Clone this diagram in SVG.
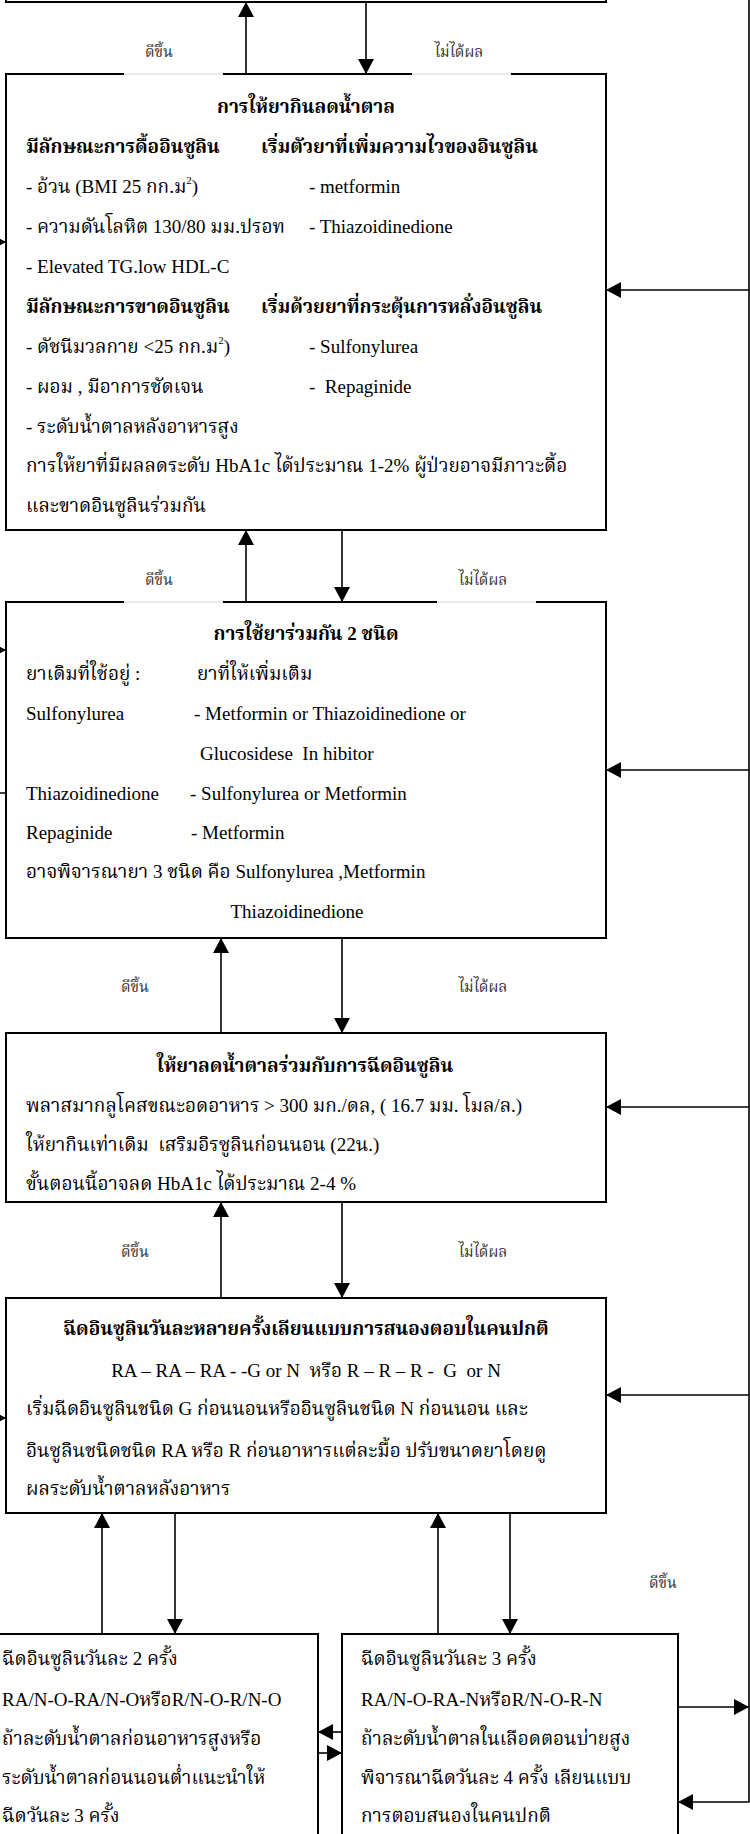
<svg xmlns="http://www.w3.org/2000/svg" width="750" height="1834" viewBox="0 0 750 1834">
  <style>
    .box { fill: none; stroke: #000; stroke-width: 2; }
    .gap { stroke: #d6d6d6; stroke-width: 1; }
    .wire { fill: none; stroke: #000; stroke-width: 1.6; }
    text { font-family: "Liberation Serif", "Norasi", "Kinnari", "Noto Serif Thai", "Noto Sans Thai", "Times New Roman", serif; fill: #000; }
    .t { font-size: 19px; }
    .h { font-size: 19px; font-weight: bold; }
    .c { text-anchor: middle; }
    .lbl { font-size: 15px; fill: #333; text-anchor: middle; }
  </style>
  <defs>
    <marker id="ah" markerWidth="16" markerHeight="16" refX="15" refY="8" orient="auto" markerUnits="userSpaceOnUse">
      <path d="M0,0 L15,8 L0,16 z" fill="#000"/>
    </marker>
  </defs>
  <rect width="750" height="1834" fill="#fff"/>

  <!-- previous step (only its lower edge is on the page) -->
  <g id="node-top">
    <rect class="box" x="6" y="-60" width="600" height="62"/>
  </g>

  <!-- oral glucose-lowering drugs -->
  <g id="node-oral">
    <path class="box" d="M124,74 H6 V530 H606 V74 H511 M412,74 H223"/>
    <path class="gap" d="M124,74 H223 M412,74 H511"/>
    <text class="h c" x="306" y="113">การให้ยากินลดน้ำตาล</text>
    <text class="h" x="26" y="153">มีลักษณะการดื้ออินซูลิน</text>
    <text class="h" x="261" y="153">เริ่มตัวยาที่เพิ่มความไวของอินซูลิน</text>
    <text class="t" x="26" y="193">- อ้วน (BMI 25 กก.ม<tspan font-size="11" dy="-9">2</tspan><tspan dy="9">)</tspan></text>
    <text class="t" x="309" y="193">- metformin</text>
    <text class="t" x="26" y="233">- ความดันโลหิต 130/80 มม.ปรอท</text>
    <text class="t" x="309" y="233">- Thiazoidinedione</text>
    <text class="t" x="26" y="273">- Elevated TG.low HDL-C</text>
    <text class="h" x="26" y="313">มีลักษณะการขาดอินซูลิน</text>
    <text class="h" x="261" y="313">เริ่มด้วยยาที่กระตุ้นการหลั่งอินซูลิน</text>
    <text class="t" x="26" y="353">- ดัชนีมวลกาย &lt;25 กก.ม<tspan font-size="11" dy="-9">2</tspan><tspan dy="9">)</tspan></text>
    <text class="t" x="309" y="353">- Sulfonylurea</text>
    <text class="t" x="26" y="393">- ผอม , มีอาการชัดเจน</text>
    <text class="t" x="309" y="393" xml:space="preserve">-  Repaginide</text>
    <text class="t" x="26" y="433">- ระดับน้ำตาลหลังอาหารสูง</text>
    <text class="t" x="26" y="472">การให้ยาที่มีผลลดระดับ HbA1c ได้ประมาณ 1-2% ผู้ป่วยอาจมีภาวะดื้อ</text>
    <text class="t" x="26" y="512">และขาดอินซูลินร่วมกัน</text>
  </g>

  <!-- two-drug combination -->
  <g id="node-combo">
    <path class="box" d="M124,602 H6 V938 H606 V602 H536 M437,602 H223"/>
    <path class="gap" d="M124,602 H223 M437,602 H536"/>
    <text class="h c" x="306" y="640">การใช้ยาร่วมกัน 2 ชนิด</text>
    <text class="t" x="26" y="680">ยาเดิมที่ใช้อยู่ :</text>
    <text class="t" x="197" y="680">ยาที่ให้เพิ่มเติม</text>
    <text class="t" x="26" y="720">Sulfonylurea</text>
    <text class="t" x="194" y="720">- Metformin or Thiazoidinedione or</text>
    <text class="t" x="200" y="760" xml:space="preserve">Glucosidese  In hibitor</text>
    <text class="t" x="26" y="800">Thiazoidinedione</text>
    <text class="t" x="190" y="800">- Sulfonylurea or Metformin</text>
    <text class="t" x="26" y="839">Repaginide</text>
    <text class="t" x="191" y="839">- Metformin</text>
    <text class="t" x="26" y="878">อาจพิจารณายา 3 ชนิด คือ Sulfonylurea ,Metformin</text>
    <text class="t c" x="297" y="918">Thiazoidinedione</text>
  </g>

  <!-- oral drugs plus bedtime insulin -->
  <g id="node-oral-insulin">
    <rect class="box" x="6" y="1033" width="600" height="169"/>
    <text class="h c" x="305" y="1072">ให้ยาลดน้ำตาลร่วมกับการฉีดอินซูลิน</text>
    <text class="t" x="26" y="1112">พลาสมากลูโคสขณะอดอาหาร &gt; 300 มก./ดล, ( 16.7 มม. โมล/ล.)</text>
    <text class="t" x="26" y="1151" xml:space="preserve">ให้ยากินเท่าเดิม  เสริมอิรซูลินก่อนนอน (22น.)</text>
    <text class="t" x="26" y="1190">ขั้นตอนนี้อาจลด HbA1c ได้ประมาณ 2-4 %</text>
  </g>

  <!-- multiple daily injections -->
  <g id="node-mdi">
    <rect class="box" x="6" y="1298" width="600" height="215"/>
    <text class="h c" x="306" y="1335">ฉีดอินซูลินวันละหลายครั้งเลียนแบบการสนองตอบในคนปกติ</text>
    <text class="t c" x="306" y="1377" xml:space="preserve">RA – RA – RA - -G or N  หรือ R – R – R -  G  or N</text>
    <text class="t" x="26" y="1415">เริ่มฉีดอินซูลินชนิด G ก่อนนอนหรืออินซูลินชนิด N ก่อนนอน และ</text>
    <text class="t" x="26" y="1457">อินซูลินชนิดชนิด RA หรือ R ก่อนอาหารแต่ละมื้อ ปรับขนาดยาโดยดู</text>
    <text class="t" x="26" y="1495">ผลระดับน้ำตาลหลังอาหาร</text>
  </g>

  <!-- twice-daily injections -->
  <g id="node-twice">
    <rect class="box" x="-40" y="1634" width="358" height="260"/>
    <text class="t" x="2" y="1665">ฉีดอินซูลินวันละ 2 ครั้ง</text>
    <text class="t" x="2" y="1706">RA/N-O-RA/N-OหรือR/N-O-R/N-O</text>
    <text class="t" x="2" y="1745">ถ้าละดับน้ำตาลก่อนอาหารสูงหรือ</text>
    <text class="t" x="2" y="1784">ระดับน้ำตาลก่อนนอนต่ำแนะนำให้</text>
    <text class="t" x="2" y="1822">ฉีดวันละ 3 ครั้ง</text>
  </g>

  <!-- three-times-daily injections -->
  <g id="node-thrice">
    <rect class="box" x="342" y="1634" width="336" height="260"/>
    <text class="t" x="361" y="1665">ฉีดอินซูลินวันละ 3 ครั้ง</text>
    <text class="t" x="361" y="1706">RA/N-O-RA-NหรือR/N-O-R-N</text>
    <text class="t" x="361" y="1745">ถ้าละดับน้ำตาลในเลือดตอนบ่ายสูง</text>
    <text class="t" x="361" y="1784">พิจารณาฉีดวันละ 4 ครั้ง เลียนแบบ</text>
    <text class="t" x="361" y="1822">การตอบสนองในคนปกติ</text>
  </g>

  <!-- flow between steps -->
  <g id="connectors">
    <line class="wire" x1="246" y1="74" x2="246" y2="2" marker-end="url(#ah)"/>
    <line class="wire" x1="366" y1="2" x2="366" y2="74" marker-end="url(#ah)"/>
    <line class="wire" x1="246" y1="602" x2="246" y2="530" marker-end="url(#ah)"/>
    <line class="wire" x1="342" y1="530" x2="342" y2="602" marker-end="url(#ah)"/>
    <line class="wire" x1="221" y1="1033" x2="221" y2="938" marker-end="url(#ah)"/>
    <line class="wire" x1="342" y1="938" x2="342" y2="1033" marker-end="url(#ah)"/>
    <line class="wire" x1="221" y1="1298" x2="221" y2="1202" marker-end="url(#ah)"/>
    <line class="wire" x1="342" y1="1202" x2="342" y2="1298" marker-end="url(#ah)"/>
    <line class="wire" x1="102" y1="1634" x2="102" y2="1513" marker-end="url(#ah)"/>
    <line class="wire" x1="175" y1="1513" x2="175" y2="1634" marker-end="url(#ah)"/>
    <line class="wire" x1="438" y1="1634" x2="438" y2="1513" marker-end="url(#ah)"/>
    <line class="wire" x1="510" y1="1513" x2="510" y2="1634" marker-end="url(#ah)"/>
    <line class="wire" x1="342" y1="1732" x2="318" y2="1732" marker-end="url(#ah)"/>
    <line class="wire" x1="318" y1="1753" x2="342" y2="1753" marker-end="url(#ah)"/>
    <!-- right-hand return path -->
    <line class="wire" x1="678" y1="1707" x2="749" y2="1707" marker-end="url(#ah)"/>
    <path class="wire" d="M749,-10 V1802 H678" marker-end="url(#ah)"/>
    <line class="wire" x1="749" y1="290" x2="606" y2="290" marker-end="url(#ah)"/>
    <line class="wire" x1="749" y1="770" x2="606" y2="770" marker-end="url(#ah)"/>
    <line class="wire" x1="749" y1="1107" x2="606" y2="1107" marker-end="url(#ah)"/>
    <line class="wire" x1="749" y1="1395" x2="606" y2="1395" marker-end="url(#ah)"/>
    <!-- left-hand return path -->
    <line class="wire" x1="-40" y1="242" x2="6" y2="242" marker-end="url(#ah)"/>
    <line class="wire" x1="-40" y1="650" x2="6" y2="650" marker-end="url(#ah)"/>
    <line class="wire" x1="6" y1="793" x2="-40" y2="793"/>
    <line class="wire" x1="-40" y1="1418" x2="6" y2="1418" marker-end="url(#ah)"/>
  </g>

  <!-- edge labels -->
  <g id="labels">
    <text class="lbl" x="159" y="57">ดีขึ้น</text>
    <text class="lbl" x="459" y="57">ไม่ได้ผล</text>
    <text class="lbl" x="159" y="585">ดีขึ้น</text>
    <text class="lbl" x="483" y="585">ไม่ได้ผล</text>
    <text class="lbl" x="135" y="992">ดีขึ้น</text>
    <text class="lbl" x="483" y="992">ไม่ได้ผล</text>
    <text class="lbl" x="135" y="1257">ดีขึ้น</text>
    <text class="lbl" x="483" y="1257">ไม่ได้ผล</text>
    <text class="lbl" x="663" y="1588">ดีขึ้น</text>
  </g>
</svg>
